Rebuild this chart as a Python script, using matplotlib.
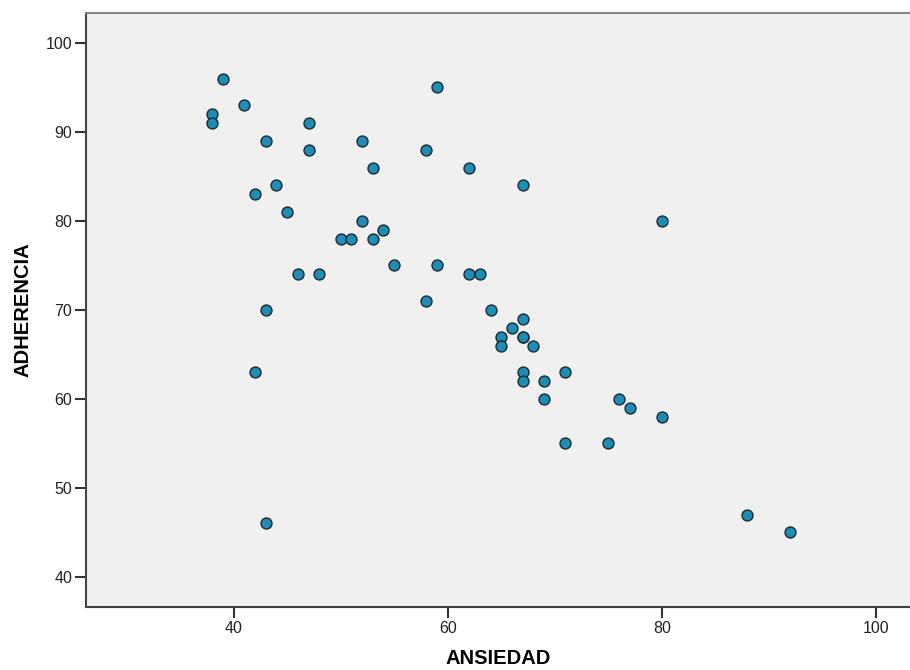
import matplotlib
matplotlib.use("Agg")
import matplotlib.pyplot as plt

plt.rcParams["font.family"] = ["Liberation Sans", "DejaVu Sans"]

# ANSIEDAD vs ADHERENCIA
ansiedad = [39, 38, 38, 41, 43, 42, 44, 45, 47, 47, 46, 48, 43, 42, 43,
            52, 53, 52, 50, 51, 53, 54, 55, 59, 58, 59, 58,
            62, 62, 63, 67, 80, 64, 67, 66, 65, 67, 67, 65, 68,
            67, 67, 69, 71, 69, 76, 77, 80, 71, 75, 88, 92]
adherencia = [96, 92, 91, 93, 89, 83, 84, 81, 91, 88, 74, 74, 70, 63, 46,
              89, 86, 80, 78, 78, 78, 79, 75, 95, 88, 75, 71,
              86, 74, 74, 84, 80, 70, 69, 68, 67, 67, 67, 66, 66,
              63, 62, 62, 63, 60, 60, 59, 58, 55, 55, 47, 45]

x_ticks = [40, 60, 80, 100]
y_ticks = [40, 50, 60, 70, 80, 90, 100]

fig = plt.figure(figsize=(9.1, 6.7), dpi=100)
ax = fig.add_axes([0.0945, 0.0945, 0.9055, 0.8865])
ax.set_facecolor("#f0f0f0")

ax.scatter(ansiedad, adherencia, s=62, color="#1f8db3",
           edgecolors="#1a2a33", linewidths=1.0, zorder=3)

ax.set_xlim(26.2, 103.2)
ax.set_ylim(36.65, 103.4)
ax.set_xticks(x_ticks)
ax.set_yticks(y_ticks)

ax.tick_params(axis="both", direction="out", length=8, width=1.5,
               color="#333333", labelsize=11.5, labelcolor="#222222", pad=2)

for side in ("left", "bottom"):
    ax.spines[side].set_color("#444444")
    ax.spines[side].set_linewidth(1.5)
ax.spines["top"].set_color("#888888")
ax.spines["top"].set_linewidth(1.5)
ax.spines["right"].set_visible(False)

ax.set_xlabel("ANSIEDAD", fontsize=14.5, fontweight="bold", labelpad=10)
ax.set_ylabel("ADHERENCIA", fontsize=14.5, fontweight="bold", labelpad=9)

fig.savefig("out.png", dpi=100, facecolor="white")
